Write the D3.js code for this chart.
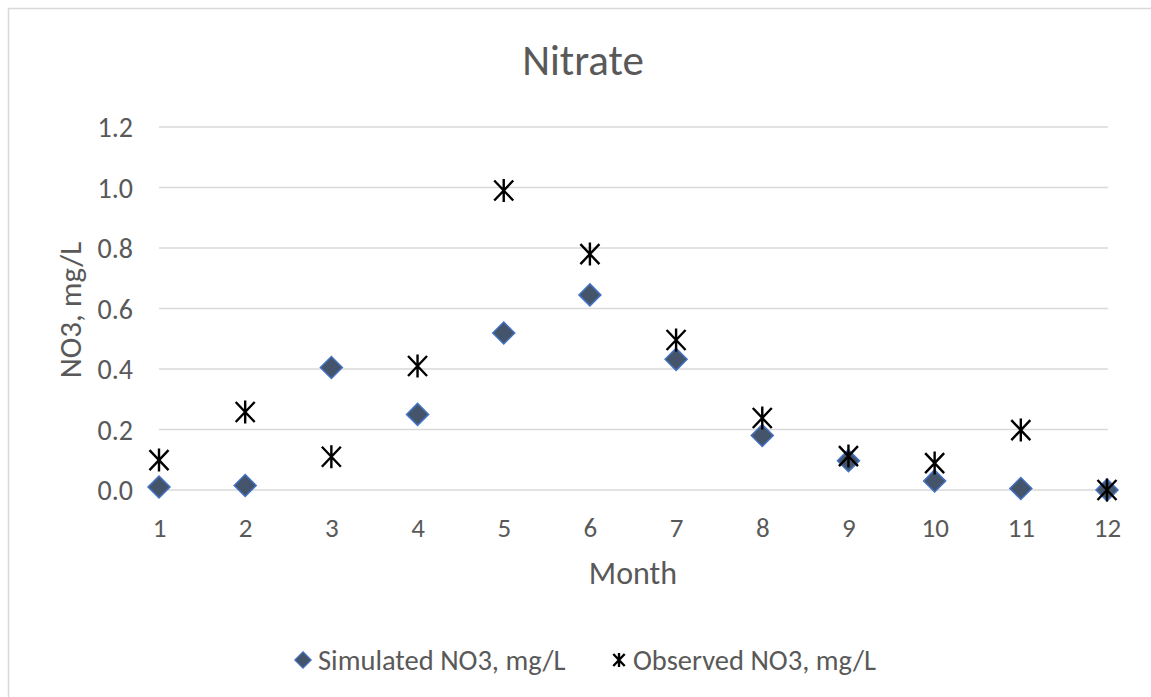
<!DOCTYPE html>
<html>
<head>
<meta charset="utf-8">
<script src="https://cdn.jsdelivr.net/npm/d3@7"></script>
<style>
  body { margin: 0; background: #fff; }
  text { font-family: Calibri, Carlito, "Open Sans", sans-serif; fill: #595959; }
</style>
</head>
<body>
<div id="chart"></div>
<script>
// Data
const months = [1, 2, 3, 4, 5, 6, 7, 8, 9, 10, 11, 12];
const simulated = [0.010, 0.015, 0.405, 0.250, 0.519, 0.645, 0.432, 0.180, 0.097, 0.030, 0.005, 0.000];
const observed = [0.099, 0.258, 0.110, 0.410, 0.990, 0.780, 0.496, 0.238, 0.112, 0.089, 0.198, 0.000];
const yTicks = [0.0, 0.2, 0.4, 0.6, 0.8, 1.0, 1.2];
const seriesNames = ["Simulated NO3, mg/L", "Observed NO3, mg/L"];

const width = 1151;
const height = 697;

const svg = d3.select("#chart").append("svg")
    .attr("width", width)
    .attr("height", height)

// chart border (only top and left show in the crop)
svg.append("rect")
    .attr("x", 8.5).attr("y", 8.5)
    .attr("width", 1160).attr("height", 720)
    .attr("fill", "none")
    .attr("stroke", "#d9d9d9")
    .attr("stroke-width", 1.5)

const x = d3.scaleLinear().domain([1, 12]).range([159, 1107]);
const y = d3.scaleLinear().domain([0, 1.2]).range([490, 127]);

// gridlines
svg.append("g")
    .selectAll("line")
    .data(yTicks)
    .join("line")
    .attr("x1", 159).attr("x2", 1108)
    .attr("y1", d => y(d)).attr("y2", d => y(d))
    .attr("stroke", "#d9d9d9")
    .attr("stroke-width", 1.5)

// y axis labels
const yAxis = svg.append("g")
    .attr("transform", "translate(133,0)")
    .call(d3.axisLeft(y).tickValues(yTicks).tickFormat(d3.format(".1f")).tickSize(0).tickPadding(0))
yAxis.select(".domain").remove()
yAxis.selectAll("text").style("font-size", "28px").attr("dy", "0.35em")

// x axis labels
const xAxis = svg.append("g")
    .attr("transform", "translate(0,537)")
    .call(d3.axisBottom(x).tickValues(months).tickFormat(d3.format("d")).tickSize(0).tickPadding(0))
xAxis.select(".domain").remove()
xAxis.selectAll("text").style("font-size", "27px").attr("dy", "0")

// title and axis titles
svg.append("text")
    .attr("x", 583).attr("y", 75)
    .attr("text-anchor", "middle")
    .style("font-size", "43px")
    .text("Nitrate")

svg.append("text")
    .attr("x", 633).attr("y", 584)
    .attr("text-anchor", "middle")
    .style("font-size", "32px")
    .text("Month")

svg.append("text")
    .attr("transform", "translate(81,310) rotate(-90)")
    .attr("text-anchor", "middle")
    .style("font-size", "31px")
    .text("NO3, mg/L")

const diamond = "M0,-11L11,0L0,11L-11,0Z";
const star = "M-9.5,-10L9.5,10M-9.5,10L9.5,-10M0,-11.5L0,11.5";

// simulated points
svg.append("g")
    .selectAll("path")
    .data(months)
    .join("path")
    .attr("transform", (d, i) => `translate(${x(d)},${y(simulated[i])})`)
    .attr("d", diamond)
    .attr("fill", "#44546a")
    .attr("stroke", "#4472c4")
    .attr("stroke-width", 1.5)

// observed points
svg.append("g")
    .selectAll("path")
    .data(months)
    .join("path")
    .attr("transform", (d, i) => `translate(${x(d)},${y(observed[i])})`)
    .attr("d", star)
    .attr("fill", "none")
    .attr("stroke", "#000")
    .attr("stroke-width", 2.4)

// legend
const legend = svg.append("g").attr("transform", "translate(0,660)")
legend.append("path")
    .attr("transform", "translate(303,0) scale(0.75)")
    .attr("d", diamond)
    .attr("fill", "#44546a")
    .attr("stroke", "#4472c4")
    .attr("stroke-width", 1.5)
legend.append("text")
    .attr("x", 318).attr("y", 0).attr("dy", "0.35em")
    .style("font-size", "28.5px")
    .text(seriesNames[0])
legend.append("path")
    .attr("transform", "translate(619,0) scale(0.6)")
    .attr("d", star)
    .attr("fill", "none")
    .attr("stroke", "#000")
    .attr("stroke-width", 4)
legend.append("text")
    .attr("x", 633).attr("y", 0).attr("dy", "0.35em")
    .style("font-size", "28.5px")
    .text(seriesNames[1])
</script>
</body>
</html>
